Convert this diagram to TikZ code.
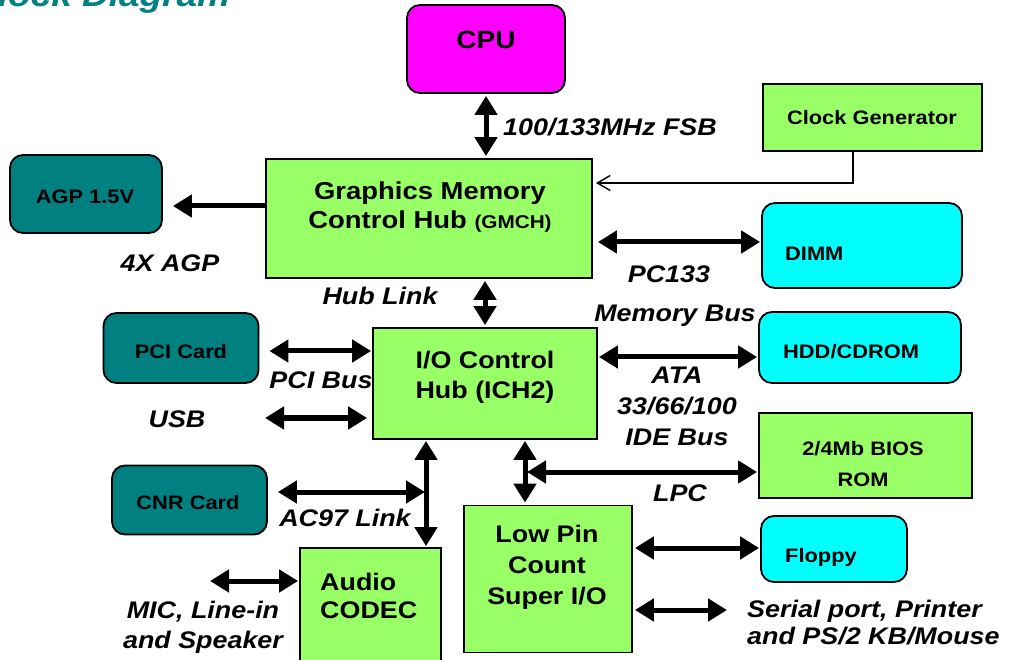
\documentclass[tikz,border=0pt]{standalone}
\usepackage{fontspec}
\setmainfont{Liberation Sans}[FakeStretch=1.12]
\usepackage{xcolor}
\usetikzlibrary{arrows.meta}

\definecolor{hubgreen}{HTML}{99FF66}
\definecolor{cpumag}{HTML}{FF00FF}
\definecolor{cardteal}{HTML}{008080}
\definecolor{devcyan}{HTML}{00FFFF}

\tikzset{
  box/.style={draw, line width=1.8pt, inner sep=0pt},
  rbox/.style={box, rounded corners=13pt},
  bigtxt/.style={font=\fontsize{24}{30}\selectfont\bfseries, align=center, inner sep=0pt},
  midtxt/.style={font=\fontsize{19.5}{31}\selectfont\bfseries, align=center, inner sep=0pt},
  bustxt/.style={font=\fontsize{24}{31}\selectfont\bfseries\itshape, align=center, inner sep=0pt},
  bus/.style={line width=5pt, {Triangle[length=19pt,width=22pt]}-{Triangle[length=19pt,width=22pt]},
    shorten <=2pt, shorten >=2pt},
  clkline/.style={line width=1.4pt, -{Straight Barb[length=13pt,width=15pt,line width=1.4pt]}}
}

\begin{document}
\begin{tikzpicture}[x=1pt,y=-1pt]
\useasboundingbox (0,0) rectangle (1010,660);
\node[anchor=base west, text=cardteal, font=\fontsize{33}{36}\selectfont\bfseries\itshape, inner sep=0pt] (title) at (-29,7) {Block Diagram};

% boxes
\node[rbox, fill=cpumag, minimum width=158, minimum height=88] (cpu) at (486,49) {};
\node[box, fill=hubgreen, minimum width=326, minimum height=119] (gmch) at (429,218.5) {};
\node[box, fill=hubgreen, minimum width=219, minimum height=67] (clk) at (872.5,117.5) {};
\node[rbox, fill=cardteal, minimum width=152, minimum height=78] (agp) at (86,194) {};
\node[rbox, fill=devcyan, minimum width=200, minimum height=85] (dimm) at (862,245.5) {};
\node[box, fill=hubgreen, minimum width=224, minimum height=111] (ich) at (485,383.5) {};
\node[rbox, fill=cardteal, minimum width=155, minimum height=70] (pci) at (181,348) {};
\node[rbox, fill=cardteal, minimum width=155, minimum height=69] (cnr) at (189.5,500) {};
\node[rbox, fill=devcyan, minimum width=202, minimum height=71] (hdd) at (860,347.5) {};
\node[box, fill=hubgreen, minimum width=213, minimum height=85] (bios) at (865.5,455.5) {};
\node[box, fill=hubgreen, minimum width=141, minimum height=122] (audio) at (370.5,609) {};
\node[box, fill=hubgreen, minimum width=168, minimum height=147] (lpc) at (548,579) {};
\node[rbox, fill=devcyan, minimum width=146, minimum height=66] (floppy) at (834,549) {};

% box texts
\node[bigtxt, font=\fontsize{25}{30}\selectfont\bfseries] (cputext) at (486,40) {CPU};
\node[bigtxt, font=\fontsize{24.5}{29}\selectfont\bfseries] (gmchtext) at (430,207.5) {Graphics Memory\\Control Hub {\fontsize{18.5}{20}\selectfont(GMCH)}};
\node[bigtxt] (ichtext) at (485,377.5) {I/O Control\\Hub (ICH2)};
\node[bigtxt, font=\fontsize{24}{28}\selectfont\bfseries, align=left, anchor=west] (audiotext) at (320,596) {Audio\\CODEC};
\node[bigtxt, font=\fontsize{24}{31}\selectfont\bfseries] (lpctext) at (547,567) {Low Pin\\Count\\Super I/O};
\node[midtxt] (clktext) at (872,118) {Clock Generator};
\node[midtxt] (agptext) at (85,197) {AGP 1.5V};
\node[midtxt] (pcitext) at (181,352) {PCI Card};
\node[midtxt] (cnrtext) at (188,503) {CNR Card};
\node[midtxt, anchor=west] (dimmtext) at (785,254) {DIMM};
\node[midtxt, anchor=west] (hddtext) at (783,352) {HDD/CDROM};
\node[midtxt, anchor=west] (floppytext) at (785,557) {Floppy};
\node[midtxt] (biostext) at (863,464.5) {2/4Mb BIOS\\ROM};

% bus labels
\node[bustxt, anchor=west] (fsblabel) at (503,127) {100/133MHz FSB};
\node[bustxt] (agplabel) at (170,263) {4X AGP};
\node[bustxt] (pc133) at (669,274) {PC133};
\node[bustxt] (membus) at (675,316) {Memory Bus};
\node[bustxt] (hublabel) at (380,296) {Hub Link};
\node[bustxt] (pcibus) at (321,380) {PCI Bus};
\node[bustxt] (usblabel) at (177,419) {USB};
\node[bustxt] (ac97label) at (345,518) {AC97 Link};
\node[bustxt, font=\fontsize{24}{30}\selectfont\bfseries\itshape] (miclabel) at (203,627) {MIC, Line-in\\and Speaker};
\node[bustxt] (atalabel) at (677,406) {ATA\\33/66/100\\IDE Bus};
\node[bustxt] (lpclabel) at (680,493) {LPC};
\node[bustxt, font=\fontsize{24}{27}\selectfont\bfseries\itshape, align=left, anchor=west] (seriallabel) at (747,623) {Serial port, Printer\\and PS/2 KB/Mouse};

% free ends
\coordinate (usbend) at (265,418);
\coordinate (ac97) at (426,492);
\coordinate (lpcjoin) at (525,472);
\coordinate (micend) at (210,581);
\coordinate (serialend) at (727,610);

% connectors
\draw[bus] (cpu.south) -- (gmch.north -| cpu.south);
\draw[line width=5pt, -{Triangle[length=19pt,width=22pt]}, shorten >=10pt] (gmch.west |- 0,206) -- (agp.east |- 0,206);
\draw[clkline, shorten >=3pt] (clk.south -| 853,0) |- (gmch.east |- 0,183);
\draw[bus, shorten <=5pt, shorten >=1pt] (gmch.east |- 0,242) -- (dimm.west |- 0,242);
\draw[bus] (ich.north |- gmch.south) -- (ich.north);
\draw[bus, shorten <=10pt, shorten >=1pt] (pci.east |- 0,351) -- (ich.west |- 0,351);
\draw[bus, shorten <=0pt, shorten >=5pt] (usbend) -- (ich.west |- usbend);
\draw[bus, shorten <=10pt, shorten >=1pt] (cnr.east |- ac97) -- (ac97);
\draw[bus, shorten <=1pt, shorten >=1pt] (ich.south -| ac97) -- (audio.north -| ac97);
\draw[bus, shorten <=1pt, shorten >=1pt] (ich.east |- 0,357) -- (hdd.west |- 0,357);
\draw[bus, shorten <=1pt, shorten >=2pt] (ich.south -| lpcjoin) -- (lpc.north -| lpcjoin);
\draw[bus, shorten <=1pt, shorten >=2pt] (bios.west |- lpcjoin) -- (lpcjoin);
\draw[bus, shorten <=0pt, shorten >=1pt] (micend) -- (audio.west |- micend);
\draw[bus, shorten >=1pt] (lpc.east |- 0,548) -- (floppy.west |- 0,548);
\draw[bus, shorten >=0pt] (lpc.east |- serialend) -- (serialend);
\end{tikzpicture}
\end{document}
